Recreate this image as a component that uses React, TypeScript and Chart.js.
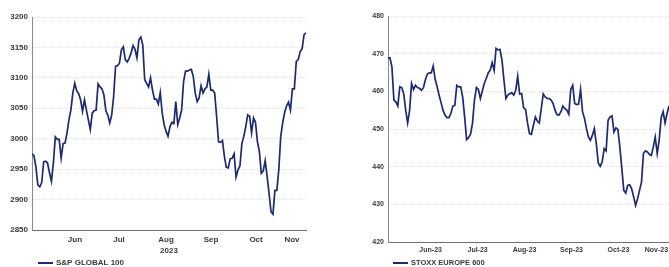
import React, { useEffect, useRef } from 'react';
import { Chart, registerables } from 'chart.js';

Chart.register(...registerables);

// ---------- S&P GLOBAL 100 (daily closes, May 17 – Nov 20, 2023) ----------
const spxValues = [
  2975, 2972, 2954, 2924, 2921, 2928, 2962, 2963, 2960, 2944, 2930, 2960, 3003, 2999, 2999, 2968,
  2992, 2993, 3009, 3031, 3047, 3075, 3091, 3079, 3074, 3064, 3045, 3064, 3047, 3031, 3015, 3042,
  3046, 3047, 3090, 3085, 3082, 3072, 3046, 3039, 3026, 3039, 3069, 3119, 3120, 3124, 3146, 3151,
  3130, 3126, 3132, 3141, 3153, 3147, 3133, 3162, 3167, 3154, 3097, 3091, 3085, 3100, 3080, 3065,
  3065, 3057, 3076, 3042, 3023, 3012, 3004, 3020, 3027, 3025, 3061, 3023, 3034, 3047, 3094, 3111,
  3111, 3113, 3114, 3102, 3075, 3061, 3067, 3087, 3075, 3082, 3085, 3106, 3080, 3080, 3075, 3037,
  2995, 2994, 2997, 2971, 2953, 2952, 2967, 2968, 2975, 2937, 2949, 2955, 2992, 3004, 3020, 3039,
  3037, 3010, 3034, 3027, 2995, 2979, 2943, 2947, 2964, 2938, 2910, 2880, 2876, 2915, 2915, 2949,
  3004, 3026, 3043, 3054, 3060, 3047, 3082, 3082, 3127, 3130, 3143, 3148, 3171, 3174,
];
const spxMonthLabels = ['Jun', 'Jul', 'Aug', 'Sep', 'Oct', 'Nov'];
const spxMonthPos = [22.1, 44.8, 69.0, 92.1, 115.3, 133.8];
const spxYearLabel = '2023';
const spxYMin = 2850;
const spxYMax = 3200;
const spxYStep = 50;
const spxName = 'S&P GLOBAL 100';

// ---------- STOXX EUROPE 600 ----------
const stoxxValues = [
  468.9, 468.9, 466.5, 457.7, 457.2, 456.1, 461.2, 461.0, 459.4, 455.0, 451.6, 455.0, 462.1, 460.5,
  461.6, 461.0, 460.8, 460.3, 460.9, 463.0, 464.6, 464.9, 464.9, 466.7, 463.2, 461.2, 459.0, 457.0,
  455.0, 453.7, 453.0, 453.0, 454.1, 456.1, 456.3, 461.6, 461.2, 461.2, 458.5, 453.2, 447.2, 447.7,
  448.6, 451.5, 457.7, 461.0, 460.5, 458.1, 460.1, 462.1, 463.4, 464.9, 465.6, 467.6, 465.6, 471.4,
  471.0, 471.1, 468.3, 463.0, 458.1, 459.0, 459.4, 459.6, 459.0, 460.3, 464.0, 459.3, 459.4, 455.7,
  455.2, 451.6, 448.8, 448.6, 451.0, 453.2, 452.1, 451.6, 455.4, 459.3, 458.5, 458.1, 458.1, 457.7,
  456.8, 455.0, 453.8, 453.7, 454.6, 456.1, 455.4, 455.0, 453.9, 460.5, 461.6, 456.8, 456.5, 456.6,
  460.5, 454.6, 452.8, 450.1, 447.9, 447.0, 448.3, 450.1, 446.1, 441.0, 440.1, 441.3, 444.8, 444.2,
  452.3, 453.2, 453.5, 449.2, 450.3, 449.9, 445.2, 439.5, 433.7, 433.0, 435.0, 435.2, 434.1, 432.0,
  429.7, 431.5, 433.7, 435.9, 443.5, 444.2, 443.9, 443.3, 443.0, 445.2, 447.9, 443.5, 447.0, 453.0,
  454.6, 451.6, 454.1, 456.1,
];
const stoxxMonthLabels = ['Jun-23', 'Jul-23', 'Aug-23', 'Sep-23', 'Oct-23', 'Nov-23'];
const stoxxMonthPos = [21.7, 45.6, 69.5, 93.4, 117.3, 136.6];
const stoxxYMin = 420;
const stoxxYMax = 480;
const stoxxYStep = 10;
const stoxxName = 'STOXX EUROPE 600';

const LINE_COLOR = '#1d2a72';
const TEXT_COLOR = '#3a3a3a';
const FONT_FAMILY = '"Liberation Sans", Arial, sans-serif';

type Cfg = {
  values: number[];
  monthLabels: string[];
  monthPos: number[];
  yMin: number;
  yMax: number;
  yStep: number;
  name: string;
  title?: string;
  tickFont: number;
  legendFont: number;
  yAxisWidth: number;
  xAxisHeight: number;
  padTop: number;
  padRight: number;
  labelPad: number;
  titlePadBottom: number;
  legendX: number;
  legendY: number;
};

function makeChart(canvas: HTMLCanvasElement, c: Cfg) {
  const legendPlugin = {
    id: 'manualLegend',
    afterDraw(chart: any) {
      const ctx = chart.ctx;
      ctx.save();
      ctx.strokeStyle = LINE_COLOR;
      ctx.lineWidth = 2;
      ctx.beginPath();
      ctx.moveTo(c.legendX, c.legendY);
      ctx.lineTo(c.legendX + 15, c.legendY);
      ctx.stroke();
      ctx.fillStyle = TEXT_COLOR;
      ctx.font = `bold ${c.legendFont}px ${FONT_FAMILY}`;
      ctx.textBaseline = 'middle';
      ctx.textAlign = 'left';
      ctx.fillText(c.name, c.legendX + 18, c.legendY);
      ctx.restore();
    },
  };

  return new Chart(canvas, {
    type: 'line',
    data: {
      labels: c.values.map((_, i) => i),
      datasets: [
        {
          label: c.name,
          data: c.values.map((v, i) => ({ x: i, y: v })),
          borderColor: LINE_COLOR,
          borderWidth: 1.7,
          pointRadius: 0,
          tension: 0,
          fill: false,
        },
      ],
    },
    options: {
      animation: false,
      responsive: false,
      devicePixelRatio: 1,
      layout: { padding: { left: 0, right: c.padRight, top: c.padTop, bottom: 0 } },
      plugins: {
        legend: { display: false },
        tooltip: { enabled: false },
      },
      scales: {
        x: {
          type: 'linear',
          min: 0,
          max: c.values.length - 1,
          grid: { display: false, drawTicks: false },
          border: { display: true, color: '#6f6f6f', width: 1, dash: [1, 1] },
          afterBuildTicks: (scale: any) => {
            scale.ticks = c.monthPos.map((v) => ({ value: v }));
          },
          afterFit: (scale: any) => {
            scale.height = c.xAxisHeight;
          },
          ticks: {
            autoSkip: false,
            maxRotation: 0,
            minRotation: 0,
            padding: c.labelPad,
            color: TEXT_COLOR,
            font: { family: FONT_FAMILY, size: c.tickFont, weight: 'bold' },
            callback: (_v: any, i: number) => c.monthLabels[i],
          },
          title: c.title
            ? {
                display: true,
                text: c.title,
                color: TEXT_COLOR,
                font: { family: FONT_FAMILY, size: c.tickFont, weight: 'bold' },
                padding: { top: 0, bottom: c.titlePadBottom },
              }
            : { display: false },
        },
        y: {
          min: c.yMin,
          max: c.yMax,
          grid: { color: '#e2e2e2', lineWidth: 1, drawTicks: false },
          border: { display: true, color: '#8a8a8a', width: 1, dash: [1, 1] },
          afterFit: (scale: any) => {
            scale.width = c.yAxisWidth;
          },
          ticks: {
            stepSize: c.yStep,
            padding: 4,
            color: TEXT_COLOR,
            font: { family: FONT_FAMILY, size: c.tickFont, weight: 'bold' },
            callback: (v: any) => String(v),
          },
        },
      },
    },
    plugins: [legendPlugin],
  } as any);
}

function ChartCanvas({ cfg, left, width }: { cfg: Cfg; left: number; width: number }) {
  const ref = useRef<HTMLCanvasElement | null>(null);
  useEffect(() => {
    if (!ref.current) return;
    const chart = makeChart(ref.current, cfg);
    return () => chart.destroy();
  }, []);
  return (
    <canvas
      ref={ref}
      width={width}
      height={267}
      style={{ position: 'absolute', left, top: 0, width, height: 267 }}
    />
  );
}

const leftCfg: Cfg = {
  values: spxValues,
  monthLabels: spxMonthLabels,
  monthPos: spxMonthPos,
  yMin: spxYMin,
  yMax: spxYMax,
  yStep: spxYStep,
  name: spxName,
  title: spxYearLabel,
  tickFont: 8,
  legendFont: 8,
  yAxisWidth: 32,
  xAxisHeight: 37,
  padTop: 17,
  padRight: 14,
  labelPad: 5,
  titlePadBottom: 11,
  legendX: 38,
  legendY: 263,
};

const rightCfg: Cfg = {
  values: stoxxValues,
  monthLabels: stoxxMonthLabels,
  monthPos: stoxxMonthPos,
  yMin: stoxxYMin,
  yMax: stoxxYMax,
  yStep: stoxxYStep,
  name: stoxxName,
  tickFont: 7,
  legendFont: 7.5,
  yAxisWidth: 58,
  xAxisHeight: 25,
  padTop: 16,
  padRight: 6,
  labelPad: 4,
  titlePadBottom: 0,
  legendX: 63,
  legendY: 263,
};

export default function App() {
  return (
    <div
      style={{
        position: 'fixed',
        left: 0,
        top: 0,
        width: 669,
        height: 267,
        overflow: 'hidden',
        background: '#ffffff',
      }}
    >
      <ChartCanvas cfg={leftCfg} left={0} width={320} />
      <ChartCanvas cfg={rightCfg} left={330} width={345} />
    </div>
  );
}
